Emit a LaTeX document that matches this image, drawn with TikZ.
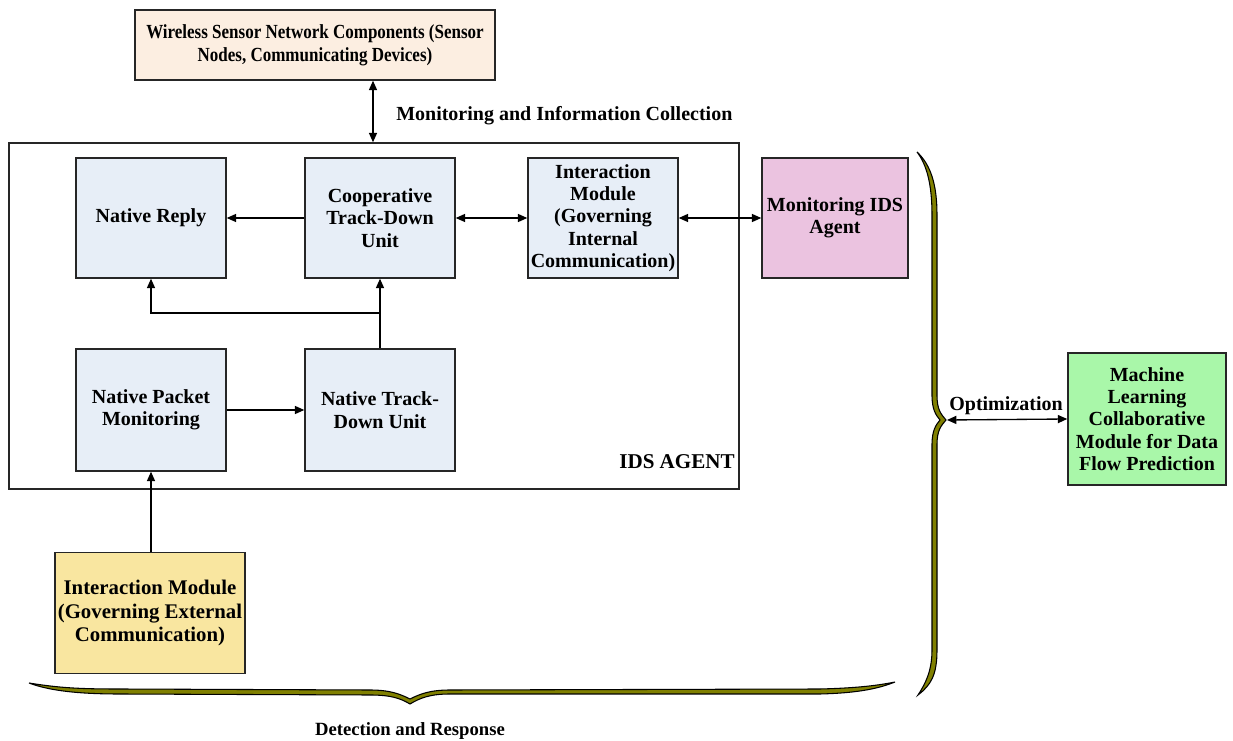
\documentclass[tikz,border=0pt]{standalone}
\usepackage{fontspec}
\setmainfont{Liberation Serif}
\newfontfamily\narrowserif[FakeStretch=0.85]{Liberation Serif}
\usetikzlibrary{arrows.meta}
\definecolor{wsnfill}{HTML}{FCEEE1}
\definecolor{unitfill}{HTML}{E7EEF7}
\definecolor{agentfill}{HTML}{EBC3E0}
\definecolor{extfill}{HTML}{F9E6A0}
\definecolor{mlfill}{HTML}{A9F7A9}
\definecolor{braceolive}{HTML}{808000}
\tikzset{
  box/.style 2 args={draw=black!85, line width=1.1pt, align=center, inner sep=0pt,
    minimum width=#1*0.75pt, minimum height=#2*0.75pt},
  conn/.style={line width=1pt, black},
  arr/.style={conn, -{Triangle[length=7pt,width=6pt]}},
  darr/.style={conn, {Triangle[length=7pt,width=6pt]}-{Triangle[length=7pt,width=6pt]}},
  bracefill/.style={fill=braceolive, draw=black, line width=0.8pt},
  lbl/.style={inner sep=0pt}
}
\begin{document}
\begin{tikzpicture}[x=0.75pt,y=-0.75pt,font=\fontsize{15}{16.8}\selectfont\bfseries]
\useasboundingbox (0,0) rectangle (1233,741);

% outer agent frame
\node[box={730}{346}, fill=white] (ids) at (374,316) {};
\node[lbl, font=\fontsize{15.8}{17}\selectfont\bfseries] (idslabel) at (677,462) {IDS AGENT};

% top component
\node[box={360}{70}, fill=wsnfill, font=\narrowserif\fontsize{15}{17.3}\selectfont\bfseries] (wsn) at (315,45)
  {Wireless Sensor Network Components (Sensor\\Nodes, Communicating Devices)};

% units inside the agent
\node[box={150}{120}, fill=unitfill] (reply) at (151,218) {Native Reply};
\node[box={150}{120}, fill=unitfill] (coop) at (380,218) {Cooperative\\Track-Down\\Unit};
\node[box={150}{120}, fill=unitfill] (intint) at (603,218)
  {Interaction\\Module\\(Governing\\Internal\\Communication)};
\node[box={150}{122}, fill=unitfill] (npm) at (151,410) {Native Packet\\Monitoring};
\node[box={150}{122}, fill=unitfill] (ntd) at (380,410) {Native Track-\\Down Unit};

% outside the agent
\node[box={146}{120}, fill=agentfill] (monids) at (835,218) {Monitoring IDS\\Agent};
\node[box={190}{121}, fill=extfill, font=\fontsize{15.6}{17.3}\selectfont\bfseries] (extint) at (150,613)
  {Interaction Module\\(Governing External\\Communication)};
\node[box={158}{132}, fill=mlfill] (ml) at (1147,419)
  {Machine\\Learning\\Collaborative\\Module for Data\\Flow Prediction};

% connectors
\coordinate (wx) at (373,0);
\draw[darr] (wsn.south -| wx) -- (ids.north -| wx);
\node[lbl, anchor=west] (moncol) at (396,116) {Monitoring and Information Collection};

\draw[arr] (coop.west) -- (reply.east);
\draw[darr] (coop.east) -- (intint.west);
\draw[darr] (intint.east) -- (monids.west);
\draw[arr] (npm.east) -- (ntd.west);

\coordinate (jy) at (0,313);
\coordinate (junc) at (ntd.north |- jy);
\draw[conn] (ntd.north) -- (junc);
\draw[arr] (junc) -- (coop.south);
\draw[arr] (junc) -| (reply.south);

\coordinate (ex) at (npm.south |- extint.north);
\draw[arr] (ex) -- (npm.south);

% right brace
\filldraw[bracefill]
  (917,152) .. controls (931,165) and (937,185) .. (937,215)
  -- (937,395) .. controls (937,410) and (941,414) .. (946,420)
  .. controls (941,426) and (937,430) .. (937,445)
  -- (937,650) .. controls (937,675) and (931,685) .. (918,695)
  .. controls (926,683) and (932,670) .. (932,650)
  -- (932,445) .. controls (932,430) and (936,425) .. (940,420)
  .. controls (936,415) and (932,410) .. (932,395)
  -- (932,215) .. controls (932,185) and (927,165) .. (917,152) -- cycle;
\coordinate (btip) at (947,420);
\draw[darr] (btip) -- (ml.west);
\node[lbl] (optlabel) at (1006,406) {Optimization};

% bottom brace
\filldraw[bracefill]
  (29,683) .. controls (60,688) and (80,689) .. (120,689)
  -- (370,690) .. controls (390,690) and (400,694) .. (410,699)
  .. controls (420,694) and (430,690) .. (450,690)
  -- (820,689) .. controls (860,688) and (880,685) .. (895,682)
  .. controls (880,688) and (860,693) .. (820,694)
  -- (450,694) .. controls (430,694) and (420,698) .. (410,704)
  .. controls (400,698) and (390,695) .. (370,695)
  -- (120,694) .. controls (80,694) and (50,691) .. (29,683) -- cycle;
\node[lbl, font=\fontsize{14}{16}\selectfont\bfseries] (detlabel) at (410,731) {Detection and Response};
\end{tikzpicture}
\end{document}
